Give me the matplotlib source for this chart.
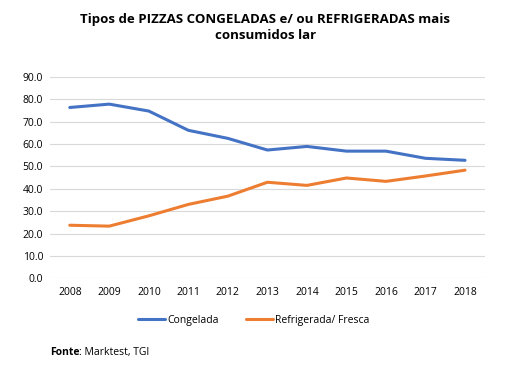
import matplotlib
matplotlib.use('Agg')
import matplotlib.pyplot as plt

plt.rcParams['font.family'] = ['Open Sans', 'DejaVu Sans']

anos = ['2008', '2009', '2010', '2011', '2012', '2013', '2014', '2015', '2016', '2017', '2018']
congelada = [76.3, 77.8, 74.7, 66.1, 62.5, 57.3, 58.9, 56.8, 56.8, 53.6, 52.7]
refrigerada = [23.7, 23.3, 27.9, 33.0, 36.7, 42.9, 41.5, 44.8, 43.3, 45.7, 48.3]

fig = plt.figure(figsize=(5.05, 3.67), dpi=100)
ax = fig.add_axes([0.099, 0.2417, 0.861, 0.549])

ax.plot(anos, congelada, color='#4472C4', lw=2.2, label='Congelada', solid_capstyle='round')
ax.plot(anos, refrigerada, color='#ED7D31', lw=2.2, label='Refrigerada/ Fresca', solid_capstyle='round')

ax.set_xlim(-0.5, len(anos) - 0.5)
ax.set_ylim(0, 90)
ax.set_yticks(range(0, 91, 10))
ax.set_yticklabels([f'{v:.1f}' for v in range(0, 91, 10)])
ax.yaxis.grid(True, color='#D9D9D9', lw=0.8)
ax.set_axisbelow(True)
for s in ax.spines.values():
    s.set_visible(False)
ax.tick_params(length=0, labelsize=7.5, colors='#000000', pad=5)
ax.tick_params(axis='x', pad=6)

fig.text(0.525, 0.965, 'Tipos de PIZZAS CONGELADAS e/ ou REFRIGERADAS mais\nconsumidos lar',
         ha='center', va='top', fontsize=9.5, fontweight='bold', linespacing=1.3)

fig.legend(loc='center', bbox_to_anchor=(0.503, 0.128), ncol=2, frameon=False,
           fontsize=7.5, handlelength=2.6, handletextpad=0.2, columnspacing=2.6)

# "Fonte" em negrito seguido do resto
t = fig.text(0.099, 0.04, 'Fonte', fontsize=7.5, ha='left', va='center', fontweight='bold')
fig.canvas.draw()
bb = t.get_window_extent().transformed(fig.transFigure.inverted())
fig.text(bb.x1, 0.04, ': Marktest, TGI', fontsize=7.5, ha='left', va='center')

fig.savefig('out.png', dpi=100, facecolor='white')
